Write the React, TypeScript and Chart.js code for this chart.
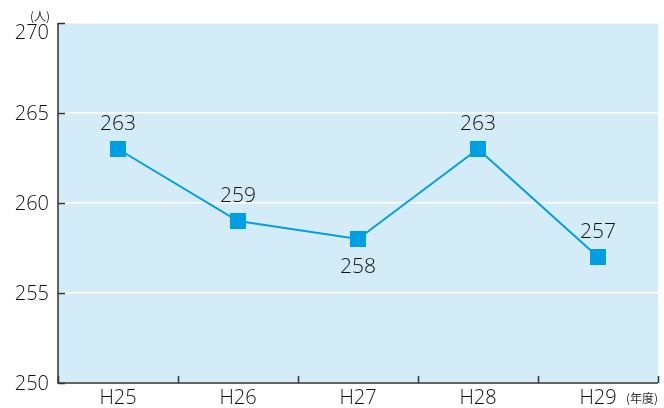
import React, { useEffect, useRef } from 'react';
import { Chart, registerables } from 'chart.js';
Chart.register(...registerables);

const categories = ['H25', 'H26', 'H27', 'H28', 'H29'];
const values = [263, 259, 258, 263, 257];
const labelBelow = [false, false, true, false, false];
const yMin = 250;
const yMax = 270;
const yStep = 5;
const yUnit = '(人)';
const xUnit = '(年度)';

const FONT = '"Open Sans", "Noto Sans CJK JP", sans-serif';
const CJK = '"Noto Sans CJK JP", sans-serif';
const LINE_COLOR = '#009fe3';
const BG = '#d4ebf8';
const TEXT = '#111111';
const AXIS = '#333333';

const decorPlugin = {
  id: 'decor',
  beforeDraw(chart: any) {
    const { ctx, chartArea } = chart;
    ctx.save();
    ctx.fillStyle = BG;
    ctx.fillRect(chartArea.left, chartArea.top, chartArea.right - chartArea.left, chartArea.bottom - chartArea.top);
    ctx.restore();
  },
  afterDraw(chart: any) {
    const { ctx, chartArea } = chart;
    const xs = chart.scales.x;
    const ys = chart.scales.y;
    ctx.save();
    ctx.strokeStyle = AXIS;
    ctx.lineWidth = 1.5;
    // y tick labels + inward ticks
    ctx.fillStyle = TEXT;
    ctx.font = `300 20px ${FONT}`;
    ctx.textAlign = 'right';
    ctx.textBaseline = 'middle';
    ys.ticks.forEach((t: any, i: number) => {
      const py = Math.round(ys.getPixelForValue(t.value)) + 0.5;
      ctx.beginPath();
      ctx.moveTo(chartArea.left, py);
      ctx.lineTo(chartArea.left + 7, py);
      ctx.stroke();
      const isTop = i === ys.ticks.length - 1;
      ctx.fillText(String(t.value), chartArea.left - 9, py + (isTop ? 10 : 1));
    });
    // inward x ticks at category boundaries
    for (let i = 0; i <= categories.length; i++) {
      const px = Math.round(xs.getPixelForValue(i - 0.5)) + 0.5;
      ctx.beginPath();
      ctx.moveTo(px, chartArea.bottom);
      ctx.lineTo(px, chartArea.bottom - 7);
      ctx.stroke();
    }
    // axis lines
    ctx.beginPath();
    ctx.moveTo(chartArea.left, chartArea.top);
    ctx.lineTo(chartArea.left, chartArea.bottom);
    ctx.lineTo(chartArea.right, chartArea.bottom);
    ctx.stroke();
    // units
    ctx.fillStyle = '#333333';
    ctx.font = `12px ${CJK}`;
    ctx.textAlign = 'center';
    ctx.textBaseline = 'alphabetic';
    ctx.fillText(yUnit, chartArea.left - 18, chartArea.top - 2);
    ctx.textAlign = 'right';
    ctx.fillText(xUnit, chartArea.right, chartArea.bottom + 20);
    // data labels
    ctx.textBaseline = 'middle';
    ctx.fillStyle = TEXT;
    const meta = chart.getDatasetMeta(0);
    ctx.font = `300 21px ${FONT}`;
    ctx.textAlign = 'center';
    meta.data.forEach((pt: any, i: number) => {
      const off = labelBelow[i] ? 28 : -25;
      ctx.fillText(String(values[i]), pt.x, pt.y + off);
    });
    ctx.restore();
  },
};

export default function App() {
  const ref = useRef<HTMLCanvasElement>(null);
  useEffect(() => {
    document.body.style.margin = '0';
    const chart = new Chart(ref.current!, {
      type: 'line',
      data: {
        labels: categories,
        datasets: [
          {
            data: values,
            borderColor: LINE_COLOR,
            backgroundColor: LINE_COLOR,
            borderWidth: 2,
            pointStyle: 'rect',
            pointRadius: 11.3,
            pointBorderWidth: 0,
            pointBackgroundColor: LINE_COLOR,
            tension: 0,
          },
        ],
      },
      options: {
        animation: false,
        responsive: true,
        maintainAspectRatio: false,
        layout: { autoPadding: false, padding: { top: 23, right: 6, left: 0, bottom: 0 } },
        plugins: { legend: { display: false }, tooltip: { enabled: false } },
        scales: {
          x: {
            type: 'category',
            offset: true,
            grid: { display: false, drawTicks: false },
            border: { display: false },
            ticks: {
              color: TEXT,
              font: { family: FONT, size: 20, weight: '300' },
              padding: 3,
            },
            afterFit: (s: any) => {
              s.height = 25;
            },
          },
          y: {
            min: yMin,
            max: yMax,
            grid: { color: '#ffffff', lineWidth: 1.5, drawTicks: false },
            border: { display: false },
            ticks: { stepSize: yStep, display: false },
            afterFit: (s: any) => {
              s.width = 58;
            },
          },
        },
      },
      plugins: [decorPlugin],
    });
    return () => chart.destroy();
  }, []);
  return (
    <div style={{ width: 664, height: 408, position: 'relative' }}>
      <canvas ref={ref} />
    </div>
  );
}
